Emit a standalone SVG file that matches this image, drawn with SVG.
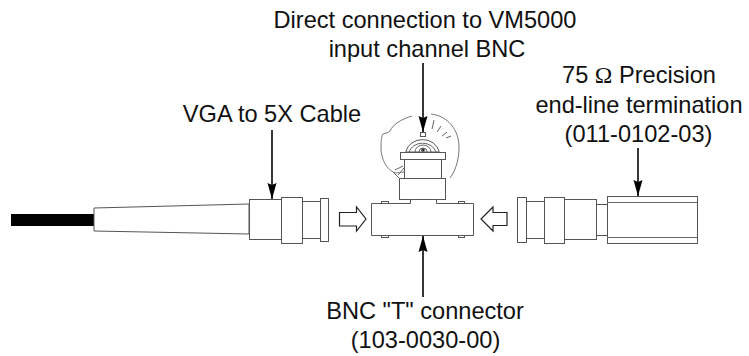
<svg xmlns="http://www.w3.org/2000/svg" width="749" height="356" viewBox="0 0 749 356">
<defs>
<marker id="ah" markerUnits="userSpaceOnUse" markerWidth="18" markerHeight="12" refX="16" refY="5" orient="auto"><path d="M0 0.500L2 5L0 9.500L16 5Z" fill="#000"/></marker>
<style>
text{font-family:"Liberation Sans",Arial,sans-serif;font-size:23.6px;fill:#111;text-anchor:middle}
.s{fill:#fff;stroke:#555;stroke-width:1}
.l{fill:none;stroke:#666;stroke-width:1}
.c{fill:none;stroke:#222;stroke-width:1.800;marker-end:url(#ah)}
.b{fill:#fff;stroke:#222;stroke-width:1.200}
</style>
</defs>
<rect width="749" height="356" fill="#fff"/>
<g id="cable">
<rect x="11" y="214" width="83" height="12" fill="#000"/>
<path class="s" d="M94 208L249 204V234L94 231Z"/>
<rect class="s" x="249.500" y="199.500" width="32" height="40"/>
<rect class="s" x="302.500" y="201.500" width="18" height="37"/>
<rect class="s" x="281.500" y="197.500" width="21" height="46"/>
<rect class="s" x="320.500" y="198.500" width="8" height="43"/>
</g>
<g id="t-connector">
<path class="l" style="fill:#fff;stroke:#777" d="M411 171C401 172 396 174 393 172C386 168 382 160 381 150C381 143 381 137 383 134C386 133 388 133 390 131C393 124 402 119 412 116"/>
<path class="l" style="stroke:#777" d="M431 114C448 116 459 130 459 147C459 159 456 170 450 178"/>
<path class="l" d="M399 178L393 172"/>
<path class="l" d="M434 120L432 129M441 126L437 132M447 132L442 136M451 136L446 138M403 166L395 170M404 168L398 175"/>
<rect class="s" x="404.500" y="159.500" width="37" height="19"/>
<path class="s" d="M406 152V151A17 15 0 0 1 439 151V152Z"/>
<path class="l" d="M409 152A14 12 0 0 1 436 152"/>
<path class="l" d="M415 152A8 7 0 0 1 431 152M419 152A4 4 0 0 1 427 152"/>
<circle cx="423" cy="150" r="1.800" fill="#333"/>
<rect class="s" x="420.500" y="132.500" width="5" height="4"/>
<rect class="s" x="400.500" y="152.500" width="45" height="7"/>
<rect class="s" x="399.500" y="178.500" width="46" height="21"/>
<rect class="s" x="381.500" y="201.500" width="7" height="3"/>
<rect class="s" x="458.500" y="201.500" width="6" height="3"/>
<rect class="s" x="381.500" y="234.500" width="7" height="3"/>
<rect class="s" x="458.500" y="234.500" width="6" height="3"/>
<path class="s" d="M371.500 203.500H410.500V199.500H436.500V203.500H473.500V235.500H371.500Z"/>
</g>
<g id="termination">
<rect class="s" x="526.500" y="201.500" width="18" height="37"/>
<rect class="s" x="517.500" y="197.500" width="9" height="45"/>
<rect class="s" x="564.500" y="199.500" width="32" height="40"/>
<rect class="s" x="544.500" y="197.500" width="20" height="46"/>
<rect class="s" x="596.500" y="204.500" width="11" height="31"/>
<rect class="s" x="607.500" y="196.500" width="90" height="47"/>
<path class="l" d="M607 202.500H697M607 237.500H697"/>
</g>
<g id="arrow-right"><path class="b" d="M339.500 212.500H356.500V207L366 219L356.500 231V226H339.500Z"/></g>
<g id="arrow-left"><path class="b" d="M507 212.500H493V207L481 219L493 231V225.500H507Z"/></g>
<g id="connectors">
<path class="c" d="M423 63V132"/>
<path class="c" d="M272 130V199"/>
<path class="c" d="M423 297V236"/>
<path class="c" d="M638 148V196"/>
</g>
<g id="labels">
<text x="425" y="28">Direct connection to VM5000</text>
<text x="427" y="57">input channel BNC</text>
<text x="639" y="83">75 <tspan font-family="Liberation Serif">Ω</tspan> Precision</text>
<text x="639" y="113">end-line termination</text>
<text x="638.500" y="142">(011-0102-03)</text>
<text x="272" y="122">VGA to 5X Cable</text>
<text x="425" y="319">BNC "T" connector</text>
<text x="425.500" y="348">(103-0030-00)</text>
</g>
</svg>
